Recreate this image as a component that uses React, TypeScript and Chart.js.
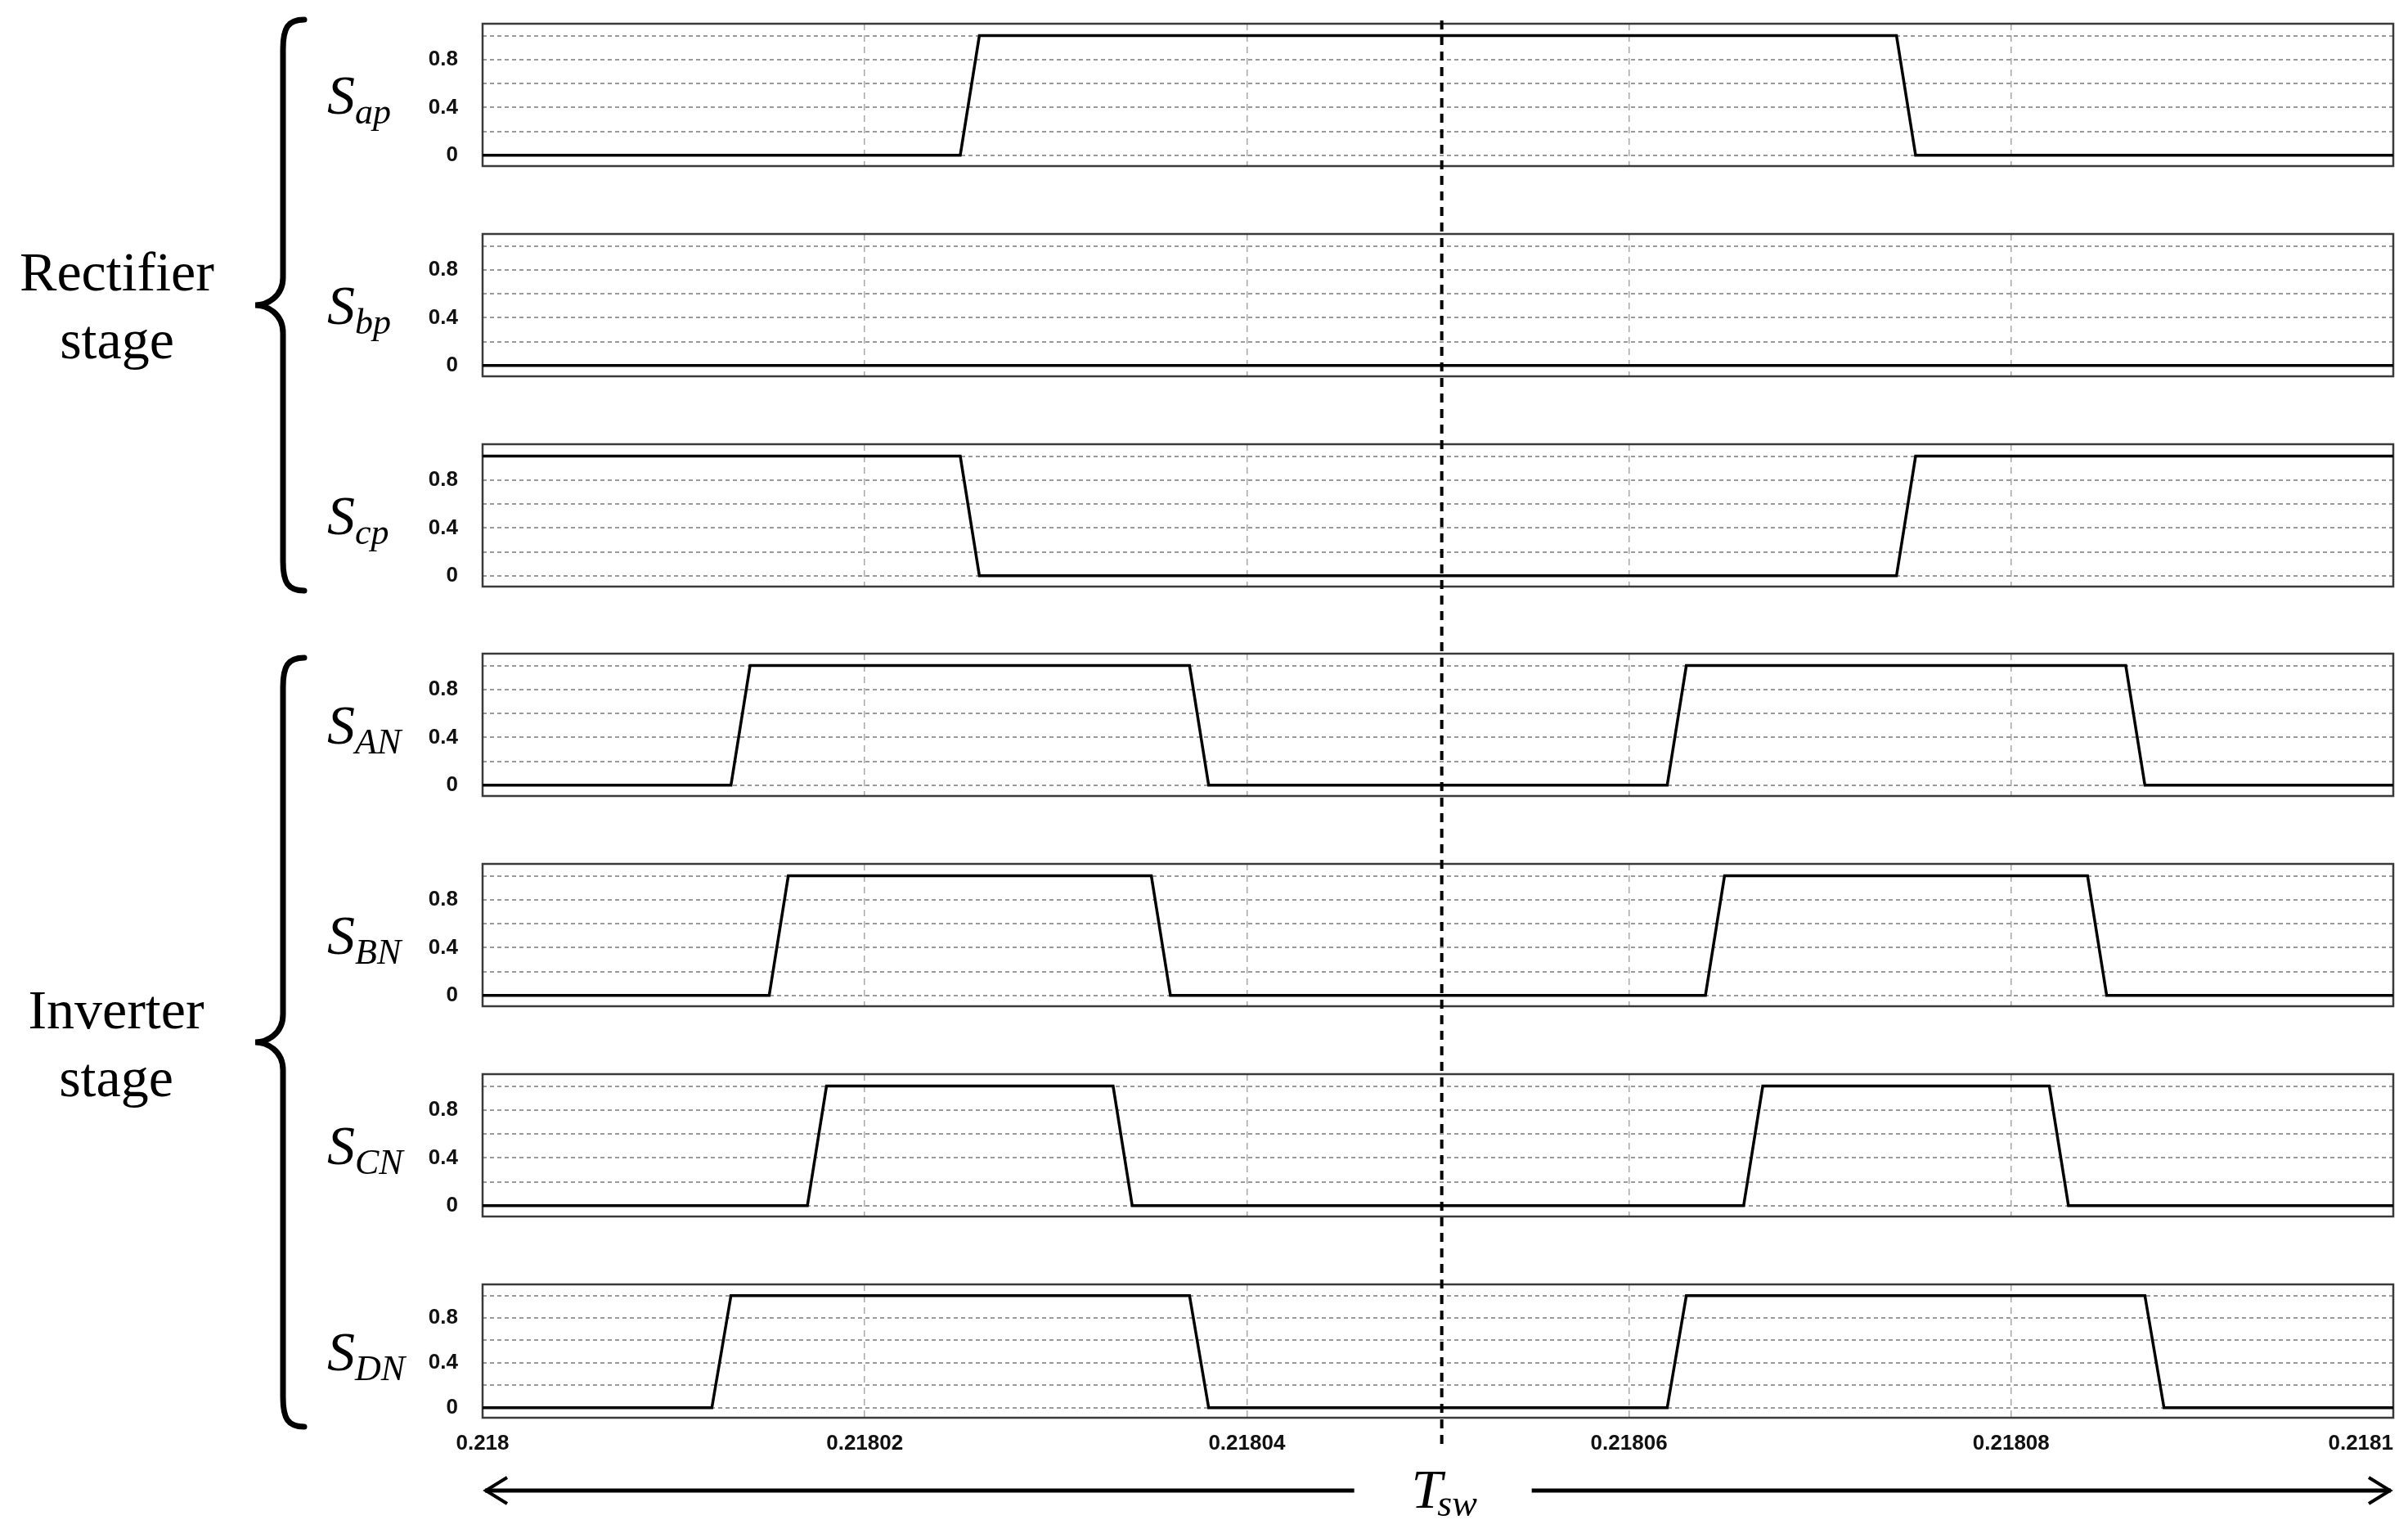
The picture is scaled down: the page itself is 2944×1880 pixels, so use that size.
import React, { useEffect, useRef } from 'react';
import { Chart, registerables } from 'chart.js';

Chart.register(...registerables);

// ---------------- data ----------------
const X_MIN = 0.218;
const X_MAX = 0.2181;
const X_TICKS = [0.218, 0.21802, 0.21804, 0.21806, 0.21808, 0.2181];
const X_TICK_LABELS = ['0.218', '0.21802', '0.21804', '0.21806', '0.21808', '0.2181'];
const Y_TICKS = [0, 0.2, 0.4, 0.6, 0.8, 1];
const Y_TICK_LABELS = ['0', '', '0.4', '', '0.8', ''];
const T_SW_MARK = 0.2180502;

const T_AP = [0.218, 0.218025, 0.218026, 0.218074, 0.218075, 0.2181];
const S_AP = [0, 0, 1, 1, 0, 0];
const T_BP = [0.218, 0.2181];
const S_BP = [0, 0];
const T_CP = [0.218, 0.218025, 0.218026, 0.218074, 0.218075, 0.2181];
const S_CP = [1, 1, 0, 0, 1, 1];
const T_AN = [0.218, 0.218013, 0.218014, 0.218037, 0.218038, 0.218062, 0.218063, 0.218086, 0.218087, 0.2181];
const S_AN = [0, 0, 1, 1, 0, 0, 1, 1, 0, 0];
const T_BN = [0.218, 0.218015, 0.218016, 0.218035, 0.218036, 0.218064, 0.218065, 0.218084, 0.218085, 0.2181];
const S_BN = [0, 0, 1, 1, 0, 0, 1, 1, 0, 0];
const T_CN = [0.218, 0.218017, 0.218018, 0.218033, 0.218034, 0.218066, 0.218067, 0.218082, 0.218083, 0.2181];
const S_CN = [0, 0, 1, 1, 0, 0, 1, 1, 0, 0];
const T_DN = [0.218, 0.218012, 0.218013, 0.218037, 0.218038, 0.218062, 0.218063, 0.218087, 0.218088, 0.2181];
const S_DN = [0, 0, 1, 1, 0, 0, 1, 1, 0, 0];

const SIGNAL_SUBS = ['ap', 'bp', 'cp', 'AN', 'BN', 'CN', 'DN'];
const SIGNAL_TIMES = [T_AP, T_BP, T_CP, T_AN, T_BN, T_CN, T_DN];
const SIGNAL_VALUES = [S_AP, S_BP, S_CP, S_AN, S_BN, S_CN, S_DN];

// ---------------- layout ----------------
const W = 2944;
const H = 1880;
const PLOT_LEFT = 590;
const PLOT_RIGHT = 2926;
const PANEL_TOP = [29, 286, 543, 799, 1056, 1313, 1570];
const PANEL_BOTTOM = [203, 460, 717, 973, 1230, 1487, 1733];
const SLOT = [0, 245, 502, 758, 1015, 1272, 1529, 1880];
const VLINE_TOP = 25;
const VLINE_BOTTOM = 1768;
const ARROW_Y = 1822;

const SANS = '"Liberation Sans", Arial, sans-serif';
const SERIF = '"Liberation Serif", "Times New Roman", serif';

function Panel({ idx }: { idx: number }) {
  const ref = useRef<HTMLCanvasElement>(null);
  const top = SLOT[idx];
  const bottom = SLOT[idx + 1];
  const h = bottom - top;

  useEffect(() => {
    const canvas = ref.current;
    if (!canvas) return;
    const last = idx === SIGNAL_SUBS.length - 1;
    const times = SIGNAL_TIMES[idx];
    const vals = SIGNAL_VALUES[idx];

    const deco = {
      id: 'deco' + idx,
      beforeDatasetsDraw(chart: any) {
        const { ctx, chartArea: a } = chart;
        ctx.save();
        ctx.setLineDash([]);
        ctx.strokeStyle = '#3a3a3a';
        ctx.lineWidth = 2.5;
        ctx.strokeRect(a.left, a.top, a.right - a.left, a.bottom - a.top);
        ctx.restore();
      },
      afterDraw(chart: any) {
        const { ctx, chartArea: a, scales } = chart;
        const xs = scales.x;
        const xm = xs.getPixelForValue(T_SW_MARK);
        const y0 = Math.max(VLINE_TOP, top);
        const y1 = Math.min(VLINE_BOTTOM, bottom);
        ctx.save();
        ctx.strokeStyle = '#000';
        ctx.lineWidth = 4;
        ctx.setLineDash([11, 8]);
        ctx.lineDashOffset = y0 - VLINE_TOP;
        ctx.beginPath();
        ctx.moveTo(xm, y0 - top);
        ctx.lineTo(xm, y1 - top);
        ctx.stroke();
        ctx.restore();

        if (last) {
          ctx.save();
          // x tick labels
          ctx.fillStyle = '#111';
          ctx.font = 'bold 26px ' + SANS;
          ctx.textBaseline = 'middle';
          ctx.textAlign = 'left';
          const ly = a.bottom + 32;
          xs.ticks.forEach((t: any, i: number) => {
            const label = X_TICK_LABELS[i] ?? '';
            const px = xs.getPixelForValue(t.value);
            const w = ctx.measureText(label).width;
            let lx = px - w / 2;
            if (lx + w > a.right) lx = a.right - w;
            ctx.fillText(label, lx, ly);
          });
          // arrows
          const ay = ARROW_Y - top;
          ctx.strokeStyle = '#000';
          ctx.lineWidth = 5;
          ctx.setLineDash([]);
          ctx.beginPath();
          ctx.moveTo(a.left + 3, ay);
          ctx.lineTo(xm - 107, ay);
          ctx.moveTo(xm + 110, ay);
          ctx.lineTo(a.right - 3, ay);
          ctx.stroke();
          ctx.lineWidth = 4;
          ctx.lineJoin = 'miter';
          ctx.beginPath();
          ctx.moveTo(a.left + 30, ay - 16);
          ctx.lineTo(a.left + 4, ay);
          ctx.lineTo(a.left + 30, ay + 16);
          ctx.moveTo(a.right - 30, ay - 16);
          ctx.lineTo(a.right - 4, ay);
          ctx.lineTo(a.right - 30, ay + 16);
          ctx.stroke();
          // T_sw label
          ctx.fillStyle = '#000';
          ctx.textBaseline = 'alphabetic';
          ctx.font = 'italic 68px ' + SERIF;
          const wT = ctx.measureText('T').width;
          ctx.font = 'italic 46px ' + SERIF;
          const wS = ctx.measureText('sw').width;
          const total = wT + wS - 6;
          const tx = xm - total / 2 + 3;
          const tb = 1843 - top;
          ctx.font = 'italic 68px ' + SERIF;
          ctx.fillText('T', tx, tb);
          ctx.font = 'italic 46px ' + SERIF;
          ctx.fillText('sw', tx + wT - 6, tb + 10);
          ctx.restore();
        }
      },
    };

    const chart = new Chart(canvas, {
      type: 'line',
      data: {
        datasets: [
          {
            data: times.map((t, i) => ({ x: t, y: vals[i] })),
            borderColor: '#000',
            borderWidth: 3.5,
            pointRadius: 0,
            tension: 0,
            fill: false,
            borderJoinStyle: 'miter',
          },
        ],
      },
      options: {
        responsive: false,
        maintainAspectRatio: false,
        devicePixelRatio: 1,
        animation: false,
        events: [],
        layout: {
          padding: {
            left: 0,
            right: W - PLOT_RIGHT,
            top: PANEL_TOP[idx] - top,
            bottom: bottom - PANEL_BOTTOM[idx],
          },
        },
        plugins: { legend: { display: false }, tooltip: { enabled: false } },
        scales: {
          x: {
            type: 'linear',
            min: X_MIN,
            max: X_MAX,
            afterBuildTicks: (s: any) => {
              s.ticks = X_TICKS.map((v) => ({ value: v }));
            },
            ticks: { display: false, autoSkip: false },
            grid: { color: '#a8a8a8', lineWidth: 1.5, drawTicks: false },
            border: { display: false, dash: [8, 6] },
            afterFit: (s: any) => {
              s.height = 0;
              s.paddingLeft = 0;
              s.paddingRight = 0;
            },
          },
          y: {
            type: 'linear',
            min: -0.09,
            max: 1.1,
            afterBuildTicks: (s: any) => {
              s.ticks = Y_TICKS.map((v) => ({ value: v }));
            },
            ticks: {
              autoSkip: false,
              padding: 30,
              color: '#111',
              font: { family: SANS, size: 26, weight: 'bold' },
              callback: (_v: any, i: number) => Y_TICK_LABELS[i] ?? '',
            },
            grid: { color: '#9a9a9a', lineWidth: 2, drawTicks: false },
            border: { display: false, dash: [5, 4] },
            afterFit: (s: any) => {
              s.width = PLOT_LEFT;
              s.paddingTop = 0;
              s.paddingBottom = 0;
            },
          },
        },
      },
      plugins: [deco],
    } as any);
    return () => chart.destroy();
  }, [idx, top, bottom]);

  return (
    <canvas
      ref={ref}
      width={W}
      height={h}
      style={{ position: 'absolute', left: 0, top, width: W, height: h, display: 'block' }}
    />
  );
}

function bracePath(xStroke: number, xTip: number, xCusp: number, t: number, b: number) {
  const m = (t + b) / 2;
  return [
    `M ${xTip} ${t}`,
    `C ${xStroke + 6} ${t}, ${xStroke} ${t + 10}, ${xStroke} ${t + 36}`,
    `L ${xStroke} ${m - 34}`,
    `C ${xStroke} ${m - 10}, ${xCusp + 14} ${m}, ${xCusp} ${m}`,
    `C ${xCusp + 14} ${m}, ${xStroke} ${m + 10}, ${xStroke} ${m + 34}`,
    `L ${xStroke} ${b - 36}`,
    `C ${xStroke} ${b - 10}, ${xStroke + 6} ${b}, ${xTip} ${b}`,
  ].join(' ');
}

export default function App() {
  return (
    <div
      style={{
        position: 'absolute',
        left: 0,
        top: 0,
        width: W,
        height: H,
        background: '#fff',
        overflow: 'hidden',
      }}
    >
      {SIGNAL_SUBS.map((_, i) => (
        <Panel key={i} idx={i} />
      ))}
      <svg
        width={W}
        height={H}
        style={{ position: 'absolute', left: 0, top: 0, pointerEvents: 'none' }}
      >
        <g fontFamily={SERIF} fill="#000" fontSize={68} textAnchor="middle">
          <text x={143} y={355}>Rectifier</text>
          <text x={143} y={438}>stage</text>
          <text x={142} y={1257}>Inverter</text>
          <text x={142} y={1340}>stage</text>
        </g>
        <g fill="none" stroke="#000" strokeWidth={7} strokeLinecap="round">
          <path d={bracePath(346, 372, 312, 24, 722)} />
          <path d={bracePath(346, 372, 312, 804, 1744)} />
        </g>
        <g fontFamily={SERIF} fill="#000" fontStyle="italic">
          {SIGNAL_SUBS.map((sub, i) => {
            const c = (PANEL_TOP[i] + PANEL_BOTTOM[i]) / 2;
            return (
              <text key={sub} x={400} y={c + 23} fontSize={68}>
                S
                <tspan fontSize={44} dy={12}>
                  {sub}
                </tspan>
              </text>
            );
          })}
        </g>
      </svg>
    </div>
  );
}
